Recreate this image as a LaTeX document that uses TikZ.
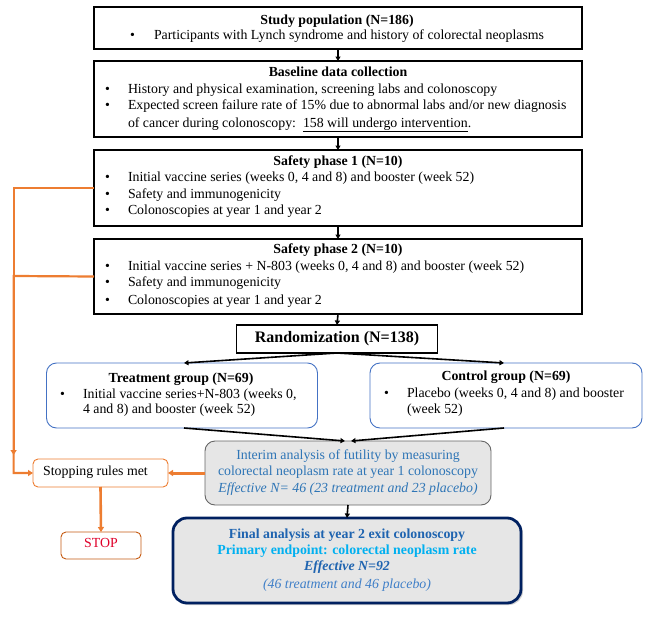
\documentclass[tikz,border=0pt]{standalone}
\usepackage{fontspec}
\setmainfont{Liberation Serif}
\usetikzlibrary{arrows.meta,shadows}
\definecolor{orng}{HTML}{ED7D31}
\definecolor{orngdk}{HTML}{C55A11}
\definecolor{bluebd}{HTML}{4472C4}
\definecolor{intblue}{HTML}{2E75B6}
\definecolor{navy}{HTML}{002060}
\definecolor{fintitle}{HTML}{1F64B0}
\definecolor{finlight}{HTML}{00B0F0}
\definecolor{finit}{HTML}{3F7FC8}
\definecolor{gfill}{HTML}{E6E6E6}
\definecolor{stopred}{HTML}{E0002A}
\newcommand{\fsz}{\fontsize{13.85}{16}\selectfont}
\begin{document}
\begin{tikzpicture}[x=1pt,y=-1pt,
  every node/.style={font=\fsz, inner sep=0pt, outer sep=0pt},
  blackbox/.style={draw=black, line width=1.9pt, fill=white},
  randbox/.style={draw=black, line width=1.1pt, fill=white},
  groupbox/.style={draw=bluebd, line width=0.9pt, rounded corners=10pt, fill=white},
  interimbox/.style={draw=black!60, line width=0.9pt, rounded corners=10pt, fill=gfill},
  finalbox/.style={draw=navy, line width=2.8pt, rounded corners=14pt, fill=gfill,
     drop shadow={shadow xshift=2pt, shadow yshift=-2pt, fill=black!35}},
  stopbox/.style={draw=orng, line width=0.9pt, rounded corners=5pt, fill=white},
  stopbox2/.style={draw=orngdk, line width=0.9pt, rounded corners=5pt, fill=white},
  ln/.style={anchor=mid west},
  tl/.style={anchor=mid, font=\fsz\bfseries},
  blk/.style={-{Triangle[length=4.5pt,width=5pt]}, line width=1.6pt, black},
  oar/.style={-{Triangle[length=5pt,width=6pt]}, line width=2.2pt, orng},
]
\useasboundingbox (0,0) rectangle (649,624);

% ---- boxes ----
\node[blackbox, minimum width=488, minimum height=42] (b1) at (338,28) {};
\node[blackbox, minimum width=488, minimum height=76] (b2) at (338,99) {};
\node[blackbox, minimum width=488, minimum height=76] (b3) at (338,188) {};
\node[blackbox, minimum width=488, minimum height=75] (b4) at (338,276.5) {};
\node[randbox, minimum width=201, minimum height=28] (rnd) at (337,339) {};
\node[groupbox, minimum width=271, minimum height=65] (trt) at (182,395.5) {};
\node[groupbox, minimum width=272, minimum height=65] (ctl) at (506,395.5) {};
\node[interimbox, minimum width=286, minimum height=64] (int) at (348,473) {};
\node[stopbox, minimum width=135, minimum height=28] (srm) at (100.5,473) {};
\node[stopbox2, minimum width=80, minimum height=27] (stp) at (101,545.5) {};
\node[finalbox, minimum width=348, minimum height=85] (fin) at (347,560.5) {};

% ---- box 1 text ----
\node[tl] (t1) at (337,22) {Study population (N=186)};
\node[ln] (t1a) at (130,37) {•};
\node[ln] (t1b) at (154,37) {Participants with Lynch syndrome and history of colorectal neoplasms};

% ---- box 2 text ----
\node[tl] (t2) at (338,74) {Baseline data collection};
\node[ln] (t2a) at (105,91) {•};
\node[ln] (t2b) at (128,91) {History and physical examination, screening labs and colonoscopy};
\node[ln] (t2c) at (105,107) {•};
\node[ln] (t2d) at (128,107) {Expected screen failure rate of 15\% due to abnormal labs and/or new diagnosis};
\node[ln] (t2e) at (128,125) {of cancer during colonoscopy:\ \ \underline{158 will undergo intervention}.};

% ---- box 3 text ----
\node[tl] (t3) at (338,163) {Safety phase 1 (N=10)};
\node[ln] (t3a) at (105,179) {•};
\node[ln] (t3b) at (128,179) {Initial vaccine series (weeks 0, 4 and 8) and booster (week 52)};
\node[ln] (t3c) at (105,196) {•};
\node[ln] (t3d) at (128,196) {Safety and immunogenicity};
\node[ln] (t3e) at (105,212) {•};
\node[ln] (t3f) at (128,212) {Colonoscopies at year 1 and year 2};

% ---- box 4 text ----
\node[tl] (t4) at (338,251) {Safety phase 2 (N=10)};
\node[ln] (t4a) at (105,268) {•};
\node[ln] (t4b) at (128,268) {Initial vaccine series + N-803 (weeks 0, 4 and 8) and booster (week 52)};
\node[ln] (t4c) at (105,284) {•};
\node[ln] (t4d) at (128,284) {Safety and immunogenicity};
\node[ln] (t4e) at (105,302) {•};
\node[ln] (t4f) at (128,302) {Colonoscopies at year 1 and year 2};

% ---- randomization ----
\node[anchor=mid, font=\fontsize{16}{18}\selectfont\bfseries] (tr) at (337,340) {Randomization (N=138)};

% ---- treatment ----
\node[tl] (tt) at (181,380) {Treatment group (N=69)};
\node[ln] (tta) at (60,396) {•};
\node[ln] (ttb) at (83,396) {Initial vaccine series+N-803 (weeks 0,};
\node[ln] (ttc) at (83,411) {4 and 8) and booster (week 52)};

% ---- control ----
\node[tl] (tc) at (506,378) {Control group (N=69)};
\node[ln] (tca) at (384,395) {•};
\node[ln] (tcb) at (407,395) {Placebo (weeks 0, 4 and 8) and booster};
\node[ln] (tcc) at (407,411) {(week 52)};

% ---- interim ----
\node[anchor=mid, text=intblue] (ti1) at (348,457) {Interim analysis of futility by measuring};
\node[anchor=mid, text=intblue] (ti2) at (348,473) {colorectal neoplasm rate at year 1 colonoscopy};
\node[anchor=mid, text=intblue, font=\fsz\itshape] (ti3) at (348,490) {Effective N= 46 (23 treatment and 23 placebo)};

% ---- stopping ----
\node[anchor=mid] (ts) at (95.5,473) {Stopping rules met};
\node[anchor=mid, text=stopred] (tst) at (101,545.5) {STOP};

% ---- final ----
\node[anchor=mid, text=fintitle, font=\fsz\bfseries] (tf1) at (347,536) {Final analysis at year 2 exit colonoscopy};
\node[anchor=mid, text=finlight, font=\fsz\bfseries] (tf2) at (347,552) {Primary endpoint: colorectal neoplasm rate};
\node[anchor=mid, text=fintitle, font=\fsz\bfseries\itshape] (tf3) at (347,568) {Effective N=92};
\node[anchor=mid, text=finit, font=\fsz\itshape] (tf4) at (347,586) {(46 treatment and 46 placebo)};

% ---- black connectors ----
\draw[blk] (b1.south) -- (b2.north);
\draw[blk] (b2.south) -- (b3.north);
\draw[blk] (b3.south) -- (b4.north);
\draw[blk] (b4.south) -- (rnd.north);
\draw[blk] (rnd.south) -- ([xshift=2pt]trt.north);
\draw[blk] (rnd.south) -- ([xshift=-2pt]ctl.north);
\draw[blk] ([xshift=2pt]trt.south) -- ([xshift=-3pt]int.north);
\draw[blk] ([xshift=-2pt]ctl.south) -- ([xshift=3pt]int.north);
\draw[blk] (int.south) -- (fin.north);

% ---- orange connectors ----
\coordinate (o1) at (13.6,188);
\coordinate (o2) at (13.6,455);
\coordinate (o3) at (13.6,276);
\coordinate (o4) at (13.6,473);
\draw[oar] (b3.west) -- (o1) -- (o2);
\draw[oar] (b4.west) -- (o3) -- (o4) -- (srm.west);
\draw[oar, line width=3pt] (int.west) -- (srm.east);
\draw[oar, line width=2.6pt] (srm.south) -- (stp.north);
\end{tikzpicture}
\end{document}
